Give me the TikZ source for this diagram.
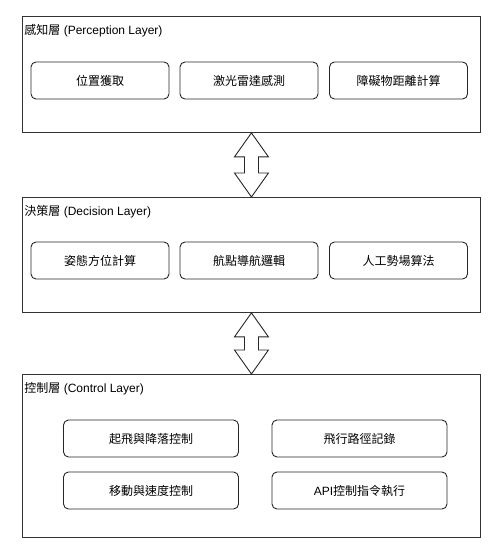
\documentclass[tikz,border=0pt]{standalone}
\usepackage{fontspec}
\setmainfont{Liberation Sans}
\newfontfamily\cjk{Noto Sans CJK TC}
\usetikzlibrary{calc}
\begin{document}
\begin{tikzpicture}[x=1pt,y=-1pt,
  line width=0.9pt,
  layer/.style={draw=black!80, rectangle, anchor=north west, minimum width=458pt, inner sep=0pt},
  layertitle/.style={anchor=west, inner sep=0pt, font=\fontsize{12pt}{14pt}\selectfont},
  item/.style={draw=black!85, rounded corners=5pt, minimum height=37pt, inner sep=0pt,
    font=\fontsize{12pt}{14pt}\selectfont},
  small/.style={item, minimum width=138pt},
  wide/.style={item, minimum width=175pt},
  dbl/.style={draw=black!85, fill=white, line join=miter}]
\useasboundingbox (0,0) rectangle (497,553);

% perception layer
\node[layer, minimum height=116pt] (p) at (22,16) {};
\node[layertitle] (pt) at (24,31) {{\cjk 感知層} (Perception Layer)};
\node[small] (p1) at (100,80.5) {\cjk 位置獲取};
\node[small] (p2) at (249,80.5) {\cjk 激光雷達感測};
\node[small] (p3) at (398.5,80.5) {\cjk 障礙物距離計算};

% decision layer
\node[layer, minimum height=115pt] (d) at (22,197) {};
\node[layertitle] (dt) at (24,212) {{\cjk 決策層} (Decision Layer)};
\node[small] (d1) at (100,260.5) {\cjk 姿態方位計算};
\node[small] (d2) at (249,260.5) {\cjk 航點導航邏輯};
\node[small] (d3) at (398.5,260.5) {\cjk 人工勢場算法};

% control layer
\node[layer, minimum height=163pt] (c) at (22,374) {};
\node[layertitle] (ct) at (24,389) {{\cjk 控制層} (Control Layer)};
\node[wide] (c1) at (151,438.5) {\cjk 起飛與降落控制};
\node[wide] (c2) at (359.5,438.5) {\cjk 飛行路徑記錄};
\node[wide] (c3) at (151,490.5) {\cjk 移動與速度控制};
\node[wide] (c4) at (359.5,490.5) {API{\cjk 控制指令執行}};

% two-way links between layers
\foreach \a/\b in {p/d, d/c}{
  \draw[dbl] (\a.south) -- ++(17,24) -- ++(-10,0) -- ($(\b.north)+(7,-24)$)
    -- ++(10,0) -- (\b.north) -- ++(-17,-24) -- ++(10,0)
    -- ($(\a.south)+(-7,24)$) -- ++(-10,0) -- cycle;
}
\end{tikzpicture}
\end{document}
